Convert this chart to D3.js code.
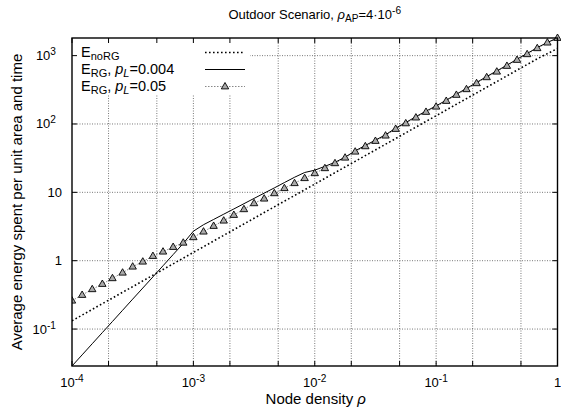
<!DOCTYPE html>
<html>
<head>
<meta charset="utf-8">
<script src="https://cdn.jsdelivr.net/npm/d3@7"></script>
<style>
  html, body { margin: 0; padding: 0; background: #fff; }
  svg { display: block; }
  text { font-family: "Liberation Sans", Arial, Helvetica, sans-serif; fill: #000; }
</style>
</head>
<body>
<svg id="chart" width="561" height="413"></svg>
<script>
// Node density samples (12 per decade, 1e-4 .. 1)
const density = [
  1.000e-4, 1.212e-4, 1.468e-4, 1.778e-4, 2.154e-4, 2.610e-4, 3.162e-4, 3.831e-4, 4.642e-4, 5.623e-4, 6.813e-4, 8.254e-4,
  1.000e-3, 1.212e-3, 1.468e-3, 1.778e-3, 2.154e-3, 2.610e-3, 3.162e-3, 3.831e-3, 4.642e-3, 5.623e-3, 6.813e-3, 8.254e-3,
  1.000e-2, 1.212e-2, 1.468e-2, 1.778e-2, 2.154e-2, 2.610e-2, 3.162e-2, 3.831e-2, 4.642e-2, 5.623e-2, 6.813e-2, 8.254e-2,
  1.000e-1, 1.212e-1, 1.468e-1, 1.778e-1, 2.154e-1, 2.610e-1, 3.162e-1, 3.831e-1, 4.642e-1, 5.623e-1, 6.813e-1, 8.254e-1,
  1.000
];

// Energy without relaying (E_noRG)
const eNoRG = [
  0.132, 0.160, 0.194, 0.235, 0.284, 0.345, 0.417, 0.506, 0.613, 0.742, 0.899, 1.09,
  1.32, 1.60, 1.94, 2.35, 2.84, 3.45, 4.17, 5.06, 6.13, 7.42, 8.99, 10.9,
  13.2, 16.0, 19.4, 23.5, 28.4, 34.5, 41.7, 50.6, 61.3, 74.2, 89.9, 109,
  132, 160, 194, 235, 284, 345, 417, 506, 613, 742, 899, 1070,
  1270
];

// Energy with relaying, p_L = 0.004
const eRG004 = [
  0.0288, 0.0419, 0.0610, 0.0887, 0.129, 0.188, 0.274, 0.398, 0.579, 0.843, 1.23, 1.79,
  2.70, 3.36, 4.01, 4.79, 5.71, 6.82, 8.15, 9.73, 11.6, 13.9, 16.6, 19.5,
  21.1, 24.0, 27.5, 32.7, 40.5, 48.5, 58.1, 69.5, 87.0, 105, 128, 154,
  184, 223, 273, 331, 405, 495, 598, 725, 887, 1075, 1310, 1560,
  1811
];

// Energy with relaying, p_L = 0.05
const eRG005 = [
  0.260, 0.315, 0.382, 0.456, 0.553, 0.667, 0.817, 0.967, 1.17, 1.355, 1.585, 1.83,
  2.20, 2.66, 3.22, 3.85, 4.66, 5.65, 6.91, 8.08, 9.68, 11.5, 13.6, 16.1,
  19.0, 22.5, 26.6, 32.1, 39.3, 47.1, 56.4, 67.5, 84.5, 102, 124, 150,
  179, 217, 266, 322, 394, 482, 582, 706, 864, 1047, 1282, 1549,
  1811
];

// Axis ticks
const xMajorTicks = [1e-4, 1e-3, 1e-2, 1e-1, 1];
const xTickLabels = [["10", "-4"], ["10", "-3"], ["10", "-2"], ["10", "-1"], ["1", ""]];
const xMinorTicks = [2e-4, 5e-4, 2e-3, 5e-3, 2e-2, 5e-2, 2e-1, 5e-1];
const yMajorTicks = [1e-1, 1, 10, 100, 1000];
const yTickLabels = [["10", "-1"], ["1", ""], ["10", ""], ["10", "2"], ["10", "3"]];

const svg = d3.select("#chart");
const W = 561, H = 413;
const plot = { left: 72, right: 557.5, top: 38, bottom: 366 };

const allValues = eNoRG.concat(eRG004, eRG005);
const x = d3.scaleLog().domain([density[0], density[density.length - 1]]).range([plot.left, plot.right]);
const y = d3.scaleLog().domain(d3.extent(allValues)).range([plot.bottom, plot.top]);

svg.append("rect").attr("width", W).attr("height", H).attr("fill", "#fff");

// Grid
const grid = svg.append("g").attr("stroke", "#555").attr("stroke-width", 0.8).attr("stroke-dasharray", "1,1.5");
xMajorTicks.concat(xMinorTicks).filter(v => v > 1e-4 && v < 1).forEach(v => {
  grid.append("line").attr("x1", x(v)).attr("x2", x(v)).attr("y1", plot.top).attr("y2", plot.bottom);
});
yMajorTicks.forEach(v => {
  grid.append("line").attr("x1", plot.left).attr("x2", plot.right).attr("y1", y(v)).attr("y2", y(v));
});

// Legend background hides the grid behind the key
svg.append("rect").attr("x", plot.left).attr("y", plot.top).attr("width", 178).attr("height", 57).attr("fill", "#fff");

svg.append("clipPath").attr("id", "plotclip").append("rect")
  .attr("x", plot.left).attr("y", plot.top - 6).attr("width", plot.right - plot.left + 6).attr("height", plot.bottom - plot.top + 6);

const series = svg.append("g").attr("clip-path", "url(#plotclip)");
const line = d3.line().x((d, i) => x(density[i])).y(d => y(d));

// E_noRG: dotted
series.append("path").datum(eNoRG).attr("d", line)
  .attr("fill", "none").attr("stroke", "#000").attr("stroke-width", 1.6).attr("stroke-dasharray", "1.6,2.4");

// E_RG p_L=0.05: gray dotted with triangles
series.append("path").datum(eRG005).attr("d", line)
  .attr("fill", "none").attr("stroke", "#888").attr("stroke-width", 1).attr("stroke-dasharray", "1.5,1.5");

// E_RG p_L=0.004: solid
series.append("path").datum(eRG004).attr("d", line)
  .attr("fill", "none").attr("stroke", "#000").attr("stroke-width", 1);

const tri = "M0,-4L3.7,2.4L-3.7,2.4Z";
series.selectAll("path.tri").data(eRG005).enter().append("path")
  .attr("class", "tri")
  .attr("d", tri)
  .attr("transform", (d, i) => `translate(${x(density[i])},${y(d)})`)
  .attr("fill", "#aaa").attr("stroke", "#000").attr("stroke-width", 0.9);

// Frame and ticks
const axes = svg.append("g").attr("stroke", "#000");
axes.append("rect").attr("x", plot.left).attr("y", plot.top)
  .attr("width", plot.right - plot.left).attr("height", plot.bottom - plot.top)
  .attr("fill", "none").attr("stroke-width", 1.4);
const tickLen = 5;
xMajorTicks.concat(xMinorTicks).forEach(v => {
  axes.append("line").attr("x1", x(v)).attr("x2", x(v)).attr("y1", plot.bottom).attr("y2", plot.bottom - tickLen).attr("stroke-width", 1);
  axes.append("line").attr("x1", x(v)).attr("x2", x(v)).attr("y1", plot.top).attr("y2", plot.top + tickLen).attr("stroke-width", 1);
});
yMajorTicks.forEach(v => {
  axes.append("line").attr("x1", plot.left).attr("x2", plot.left + tickLen).attr("y1", y(v)).attr("y2", y(v)).attr("stroke-width", 1);
  axes.append("line").attr("x1", plot.right).attr("x2", plot.right - tickLen).attr("y1", y(v)).attr("y2", y(v)).attr("stroke-width", 1);
});

const FS = 13;   // tick labels and title
const FL = 15;   // axis titles
const FK = 14.5; // key entries
function powerLabel(g, base, exp, fs) {
  g.append("tspan").text(base);
  if (exp) g.append("tspan").attr("dy", -5).attr("font-size", fs * 0.78).text(exp);
}

// X tick labels
xMajorTicks.forEach((v, i) => {
  const t = svg.append("text").attr("x", x(v)).attr("y", 387).attr("text-anchor", "middle").attr("font-size", FS);
  powerLabel(t, xTickLabels[i][0], xTickLabels[i][1], FS);
});
// Y tick labels
yMajorTicks.forEach((v, i) => {
  const hasExp = yTickLabels[i][1] !== "";
  const t = svg.append("text").attr("x", hasExp ? 56 : 62).attr("y", y(v) + 4.5).attr("text-anchor", "end").attr("font-size", FS);
  powerLabel(t, yTickLabels[i][0], yTickLabels[i][1], FS);
});

// Axis titles
svg.append("text").attr("x", (plot.left + plot.right) / 2 + 1).attr("y", 404).attr("text-anchor", "middle").attr("font-size", FL)
  .call(t => { t.append("tspan").text("Node density "); t.append("tspan").attr("font-style", "italic").text("ρ"); });
svg.append("text").attr("transform", `translate(22,${(plot.top + plot.bottom) / 2}) rotate(-90)`)
  .attr("text-anchor", "middle").attr("font-size", FL)
  .text("Average energy spent per unit area and time");

// Title
svg.append("text").attr("x", (plot.left + plot.right) / 2).attr("y", 19).attr("text-anchor", "middle").attr("font-size", FS)
  .call(t => {
    t.append("tspan").text("Outdoor Scenario, ");
    t.append("tspan").attr("font-style", "italic").text("ρ");
    t.append("tspan").attr("dy", 3).attr("font-size", FS * 0.78).text("AP");
    t.append("tspan").attr("dy", -3).text("=4·10");
    t.append("tspan").attr("dy", -5).attr("font-size", FS * 0.78).text("-6");
  });

// Legend
const legend = [
  { sub: "noRG", p: null, style: "dotted" },
  { sub: "RG", p: "0.004", style: "solid" },
  { sub: "RG", p: "0.05", style: "tri" }
];
legend.forEach((d, i) => {
  const ly = 52.5 + i * 17;
  const t = svg.append("text").attr("x", 81).attr("y", ly + 4.5).attr("font-size", FK);
  t.append("tspan").text("E");
  t.append("tspan").attr("dy", 2.5).attr("font-size", FK * 0.76).text(d.sub);
  if (d.p) {
    t.append("tspan").attr("dy", -2.5).text(", ");
    t.append("tspan").attr("font-style", "italic").text("p");
    t.append("tspan").attr("dy", 2.5).attr("font-size", FK * 0.76).attr("font-style", "italic").text("L");
    t.append("tspan").attr("dy", -2.5).text("=" + d.p);
  }
  const l = svg.append("line").attr("x1", 205).attr("x2", 245).attr("y1", ly).attr("y2", ly);
  if (d.style === "dotted") l.attr("stroke", "#000").attr("stroke-width", 1.6).attr("stroke-dasharray", "1.6,2.4");
  else if (d.style === "solid") l.attr("stroke", "#000").attr("stroke-width", 1);
  else {
    l.attr("stroke", "#888").attr("stroke-width", 1).attr("stroke-dasharray", "1.5,1.5");
    svg.append("path").attr("d", tri).attr("transform", `translate(225,${ly})`)
      .attr("fill", "#aaa").attr("stroke", "#000").attr("stroke-width", 0.9);
  }
});
</script>
</body>
</html>
